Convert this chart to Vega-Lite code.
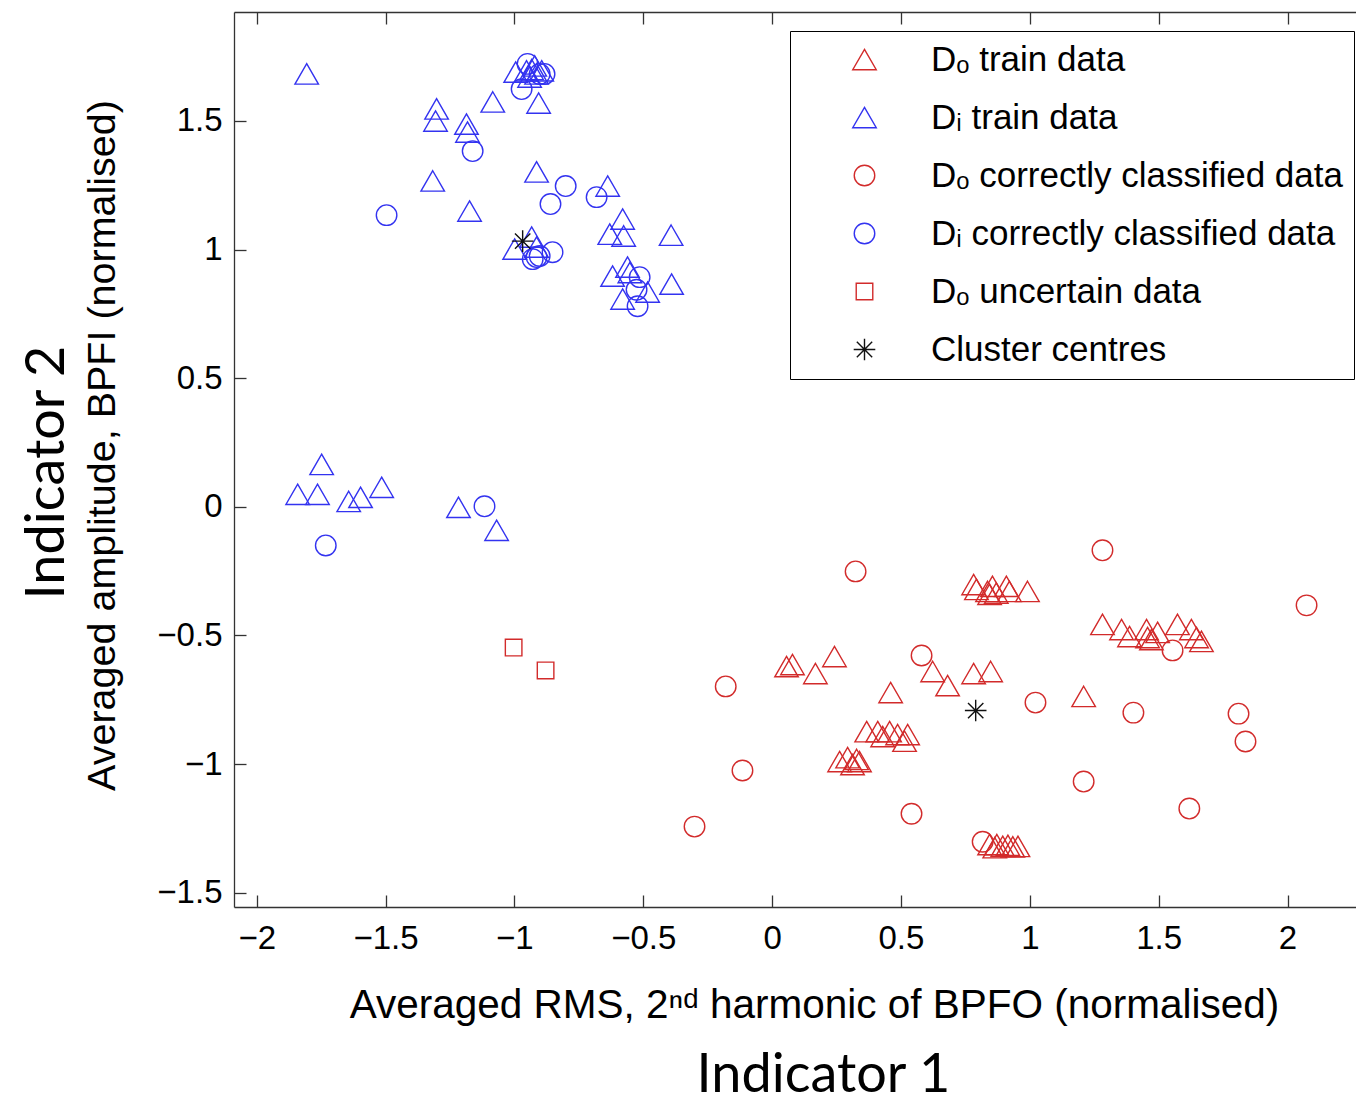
{
  "$schema": "https://vega.github.io/schema/vega-lite/v6.json",
  "width": 1122,
  "height": 895,
  "autosize": {"type": "none"},
  "padding": {"left": 234, "top": 12, "right": 0, "bottom": 197},
  "background": "white",
  "config": {
    "view": {"stroke": null},
    "axis": {
      "labelFont": "Liberation Sans",
      "titleFont": "Liberation Sans",
      "labelFontSize": 33,
      "titleFontSize": 40.5,
      "titleFontWeight": "normal",
      "labelColor": "black",
      "titleColor": "black",
      "domainColor": "#333333",
      "domainWidth": 1.3,
      "tickColor": "#333333",
      "tickWidth": 1.3,
      "grid": false
    },
    "legend": {
      "orient": "none",
      "legendX": 556,
      "legendY": 19,
      "padding": 11,
      "strokeColor": "black",
      "fillColor": "white",
      "labelFont": "Liberation Sans",
      "labelFontSize": 35,
      "labelColor": "black",
      "labelLimit": 800,
      "symbolSize": 576,
      "symbolOffset": 46,
      "labelOffset": 49,
      "rowPadding": 22,
      "symbolStrokeWidth": 1.4
    }
  },
  "datasets": {
    "pts": [
      {"x": 0.782, "y": -0.302, "g": "Dₒ train data"},
      {"x": 0.793, "y": -0.321, "g": "Dₒ train data"},
      {"x": 0.836, "y": -0.329, "g": "Dₒ train data"},
      {"x": 0.855, "y": -0.309, "g": "Dₒ train data"},
      {"x": 0.844, "y": -0.340, "g": "Dₒ train data"},
      {"x": 0.909, "y": -0.309, "g": "Dₒ train data"},
      {"x": 0.921, "y": -0.329, "g": "Dₒ train data"},
      {"x": 0.991, "y": -0.329, "g": "Dₒ train data"},
      {"x": 0.870, "y": -0.335, "g": "Dₒ train data"},
      {"x": 0.056, "y": -0.621, "g": "Dₒ train data"},
      {"x": 0.079, "y": -0.613, "g": "Dₒ train data"},
      {"x": 0.168, "y": -0.648, "g": "Dₒ train data"},
      {"x": 0.242, "y": -0.582, "g": "Dₒ train data"},
      {"x": 0.460, "y": -0.722, "g": "Dₒ train data"},
      {"x": 0.623, "y": -0.640, "g": "Dₒ train data"},
      {"x": 0.681, "y": -0.695, "g": "Dₒ train data"},
      {"x": 0.782, "y": -0.648, "g": "Dₒ train data"},
      {"x": 0.848, "y": -0.640, "g": "Dₒ train data"},
      {"x": 0.367, "y": -0.874, "g": "Dₒ train data"},
      {"x": 0.410, "y": -0.874, "g": "Dₒ train data"},
      {"x": 0.456, "y": -0.874, "g": "Dₒ train data"},
      {"x": 0.487, "y": -0.885, "g": "Dₒ train data"},
      {"x": 0.526, "y": -0.885, "g": "Dₒ train data"},
      {"x": 0.514, "y": -0.911, "g": "Dₒ train data"},
      {"x": 0.429, "y": -0.893, "g": "Dₒ train data"},
      {"x": 0.262, "y": -0.990, "g": "Dₒ train data"},
      {"x": 0.293, "y": -0.975, "g": "Dₒ train data"},
      {"x": 0.328, "y": -0.982, "g": "Dₒ train data"},
      {"x": 0.312, "y": -1.002, "g": "Dₒ train data"},
      {"x": 0.339, "y": -0.990, "g": "Dₒ train data"},
      {"x": 0.844, "y": -1.313, "g": "Dₒ train data"},
      {"x": 0.872, "y": -1.313, "g": "Dₒ train data"},
      {"x": 0.895, "y": -1.320, "g": "Dₒ train data"},
      {"x": 0.915, "y": -1.316, "g": "Dₒ train data"},
      {"x": 0.934, "y": -1.322, "g": "Dₒ train data"},
      {"x": 0.954, "y": -1.320, "g": "Dₒ train data"},
      {"x": 0.864, "y": -1.325, "g": "Dₒ train data"},
      {"x": 1.282, "y": -0.457, "g": "Dₒ train data"},
      {"x": 1.356, "y": -0.477, "g": "Dₒ train data"},
      {"x": 1.387, "y": -0.504, "g": "Dₒ train data"},
      {"x": 1.453, "y": -0.477, "g": "Dₒ train data"},
      {"x": 1.457, "y": -0.508, "g": "Dₒ train data"},
      {"x": 1.496, "y": -0.488, "g": "Dₒ train data"},
      {"x": 1.573, "y": -0.457, "g": "Dₒ train data"},
      {"x": 1.627, "y": -0.477, "g": "Dₒ train data"},
      {"x": 1.647, "y": -0.508, "g": "Dₒ train data"},
      {"x": 1.666, "y": -0.523, "g": "Dₒ train data"},
      {"x": 1.472, "y": -0.516, "g": "Dₒ train data"},
      {"x": 1.209, "y": -0.737, "g": "Dₒ train data"},
      {"x": -1.806, "y": 1.683, "g": "Dᵢ train data"},
      {"x": -1.302, "y": 1.547, "g": "Dᵢ train data"},
      {"x": -1.306, "y": 1.500, "g": "Dᵢ train data"},
      {"x": -1.186, "y": 1.488, "g": "Dᵢ train data"},
      {"x": -1.182, "y": 1.457, "g": "Dᵢ train data"},
      {"x": -1.084, "y": 1.574, "g": "Dᵢ train data"},
      {"x": -0.906, "y": 1.570, "g": "Dᵢ train data"},
      {"x": -0.995, "y": 1.690, "g": "Dᵢ train data"},
      {"x": -0.953, "y": 1.695, "g": "Dᵢ train data"},
      {"x": -0.933, "y": 1.700, "g": "Dᵢ train data"},
      {"x": -0.921, "y": 1.714, "g": "Dᵢ train data"},
      {"x": -0.914, "y": 1.683, "g": "Dᵢ train data"},
      {"x": -0.894, "y": 1.695, "g": "Dᵢ train data"},
      {"x": -0.941, "y": 1.671, "g": "Dᵢ train data"},
      {"x": -1.317, "y": 1.267, "g": "Dᵢ train data"},
      {"x": -1.174, "y": 1.150, "g": "Dᵢ train data"},
      {"x": -0.914, "y": 1.302, "g": "Dᵢ train data"},
      {"x": -0.638, "y": 1.247, "g": "Dᵢ train data"},
      {"x": -0.580, "y": 1.119, "g": "Dᵢ train data"},
      {"x": -0.630, "y": 1.060, "g": "Dᵢ train data"},
      {"x": -0.576, "y": 1.053, "g": "Dᵢ train data"},
      {"x": -0.392, "y": 1.056, "g": "Dᵢ train data"},
      {"x": -0.999, "y": 1.002, "g": "Dᵢ train data"},
      {"x": -0.933, "y": 1.049, "g": "Dᵢ train data"},
      {"x": -0.914, "y": 1.010, "g": "Dᵢ train data"},
      {"x": -0.619, "y": 0.897, "g": "Dᵢ train data"},
      {"x": -0.561, "y": 0.932, "g": "Dᵢ train data"},
      {"x": -0.552, "y": 0.911, "g": "Dᵢ train data"},
      {"x": -0.483, "y": 0.835, "g": "Dᵢ train data"},
      {"x": -0.580, "y": 0.808, "g": "Dᵢ train data"},
      {"x": -0.390, "y": 0.866, "g": "Dᵢ train data"},
      {"x": -1.748, "y": 0.165, "g": "Dᵢ train data"},
      {"x": -1.841, "y": 0.049, "g": "Dᵢ train data"},
      {"x": -1.764, "y": 0.049, "g": "Dᵢ train data"},
      {"x": -1.643, "y": 0.021, "g": "Dᵢ train data"},
      {"x": -1.597, "y": 0.037, "g": "Dᵢ train data"},
      {"x": -1.515, "y": 0.076, "g": "Dᵢ train data"},
      {"x": -1.217, "y": -0.002, "g": "Dᵢ train data"},
      {"x": -1.069, "y": -0.091, "g": "Dᵢ train data"},
      {"x": 0.324, "y": -0.251, "g": "Dₒ correctly classified data"},
      {"x": -0.180, "y": -0.698, "g": "Dₒ correctly classified data"},
      {"x": 0.580, "y": -0.578, "g": "Dₒ correctly classified data"},
      {"x": 1.022, "y": -0.761, "g": "Dₒ correctly classified data"},
      {"x": -0.115, "y": -1.025, "g": "Dₒ correctly classified data"},
      {"x": -0.301, "y": -1.243, "g": "Dₒ correctly classified data"},
      {"x": 0.541, "y": -1.193, "g": "Dₒ correctly classified data"},
      {"x": 0.817, "y": -1.302, "g": "Dₒ correctly classified data"},
      {"x": 1.282, "y": -0.169, "g": "Dₒ correctly classified data"},
      {"x": 2.074, "y": -0.383, "g": "Dₒ correctly classified data"},
      {"x": 1.554, "y": -0.558, "g": "Dₒ correctly classified data"},
      {"x": 1.402, "y": -0.800, "g": "Dₒ correctly classified data"},
      {"x": 1.810, "y": -0.804, "g": "Dₒ correctly classified data"},
      {"x": 1.837, "y": -0.912, "g": "Dₒ correctly classified data"},
      {"x": 1.209, "y": -1.068, "g": "Dₒ correctly classified data"},
      {"x": 1.619, "y": -1.173, "g": "Dₒ correctly classified data"},
      {"x": -0.949, "y": 1.722, "g": "Dᵢ correctly classified data"},
      {"x": -0.902, "y": 1.683, "g": "Dᵢ correctly classified data"},
      {"x": -0.883, "y": 1.683, "g": "Dᵢ correctly classified data"},
      {"x": -0.972, "y": 1.624, "g": "Dᵢ correctly classified data"},
      {"x": -1.162, "y": 1.383, "g": "Dᵢ correctly classified data"},
      {"x": -1.496, "y": 1.134, "g": "Dᵢ correctly classified data"},
      {"x": -0.801, "y": 1.247, "g": "Dᵢ correctly classified data"},
      {"x": -0.860, "y": 1.177, "g": "Dᵢ correctly classified data"},
      {"x": -0.681, "y": 1.204, "g": "Dᵢ correctly classified data"},
      {"x": -0.914, "y": 0.971, "g": "Dᵢ correctly classified data"},
      {"x": -0.902, "y": 0.975, "g": "Dᵢ correctly classified data"},
      {"x": -0.852, "y": 0.990, "g": "Dᵢ correctly classified data"},
      {"x": -0.929, "y": 0.963, "g": "Dᵢ correctly classified data"},
      {"x": -0.514, "y": 0.893, "g": "Dᵢ correctly classified data"},
      {"x": -0.526, "y": 0.844, "g": "Dᵢ correctly classified data"},
      {"x": -0.522, "y": 0.780, "g": "Dᵢ correctly classified data"},
      {"x": -1.732, "y": -0.150, "g": "Dᵢ correctly classified data"},
      {"x": -1.116, "y": 0.002, "g": "Dᵢ correctly classified data"},
      {"x": -1.003, "y": -0.547, "g": "Dₒ uncertain data"},
      {"x": -0.879, "y": -0.636, "g": "Dₒ uncertain data"},
      {"x": -0.968, "y": 1.033, "g": "Cluster centres"},
      {"x": 0.790, "y": -0.792, "g": "Cluster centres"}
    ]
  },
  "resolve": {"scale": {"x": "independent", "y": "independent"}},
  "layer": [
    {
      "data": {"name": "pts"},
      "transform": [{"filter": {"field": "g", "oneOf": ["Dₒ train data", "Dᵢ train data", "Dₒ correctly classified data", "Dᵢ correctly classified data"]}}],
      "mark": {"type": "point", "filled": false, "strokeWidth": 1.4, "opacity": 1, "size": 576},
      "encoding": {
        "x": {
          "field": "x", "type": "quantitative",
          "scale": {"domain": [-2.0881, 2.2658], "nice": false, "zero": false},
          "axis": {
            "orient": "bottom",
            "values": [-2, -1.5, -1, -0.5, 0, 0.5, 1, 1.5, 2],
            "format": "~g",
            "tickSize": -12,
            "labelPadding": 27,
            "title": "Averaged RMS, 2ⁿᵈ harmonic of BPFO (normalised)",
            "titlePadding": 30,
            "titleX": 580
          }
        },
        "y": {
          "field": "y", "type": "quantitative",
          "scale": {"domain": [-1.5556, 1.9237], "nice": false, "zero": false},
          "axis": {
            "orient": "left",
            "values": [-1.5, -1, -0.5, 0, 0.5, 1, 1.5],
            "format": "~g",
            "tickSize": -12,
            "labelPadding": 24,
            "title": "Averaged amplitude, BPFI (normalised)",
            "titleFontSize": 39.5,
            "titlePadding": 34,
            "titleY": 433
          }
        },
        "color": {
          "field": "g", "type": "nominal",
          "scale": {
            "domain": ["Dₒ train data", "Dᵢ train data", "Dₒ correctly classified data", "Dᵢ correctly classified data", "Dₒ uncertain data", "Cluster centres"],
            "range": ["#d22b2b", "#3333f0", "#d22b2b", "#3333f0", "#d22b2b", "#111111"]
          },
          "legend": {"title": null}
        },
        "shape": {
          "field": "g", "type": "nominal",
          "scale": {
            "domain": ["Dₒ train data", "Dᵢ train data", "Dₒ correctly classified data", "Dᵢ correctly classified data", "Dₒ uncertain data", "Cluster centres"],
            "range": [
              "M0,-0.85L0.98,0.85L-0.98,0.85Z",
              "M0,-0.85L0.98,0.85L-0.98,0.85Z",
              "M0.855,0A0.855,0.855,0,1,1,-0.855,0A0.855,0.855,0,1,1,0.855,0Z",
              "M0.855,0A0.855,0.855,0,1,1,-0.855,0A0.855,0.855,0,1,1,0.855,0Z",
              "M-0.69,-0.69L0.69,-0.69L0.69,0.69L-0.69,0.69Z",
              "M0,-0.9L0,0.9M-0.9,0L0.9,0M-0.64,-0.64L0.64,0.64M-0.64,0.64L0.64,-0.64"
            ]
          },
          "legend": {"title": null}
        }
      }
    },
    {
      "data": {"name": "pts"},
      "transform": [{"filter": {"field": "g", "equal": "Cluster centres"}}],
      "mark": {"type": "point", "filled": false, "strokeWidth": 1.4, "opacity": 1, "size": 576},
      "encoding": {
        "x": {
          "field": "x", "type": "quantitative",
          "scale": {"domain": [-2.0881, 2.2658], "nice": false, "zero": false},
          "axis": {
            "orient": "top",
            "values": [-2, -1.5, -1, -0.5, 0, 0.5, 1, 1.5, 2],
            "labels": false,
            "tickSize": -12,
            "title": null
          }
        },
        "y": {
          "field": "y", "type": "quantitative",
          "scale": {"domain": [-1.5556, 1.9237], "nice": false, "zero": false},
          "axis": null
        },
        "color": {"field": "g", "type": "nominal", "legend": {"title": null}},
        "shape": {"field": "g", "type": "nominal", "legend": {"title": null}}
      }
    },
    {
      "data": {"name": "pts"},
      "transform": [{"filter": {"field": "g", "equal": "Dₒ uncertain data"}}],
      "mark": {"type": "point", "filled": false, "strokeWidth": 1.4, "opacity": 1, "size": 576},
      "encoding": {
        "x": {
          "field": "x", "type": "quantitative",
          "scale": {"domain": [-2.0881, 2.2658], "nice": false, "zero": false},
          "axis": {
            "orient": "bottom",
            "labels": false,
            "ticks": false,
            "domain": false,
            "title": "Indicator 1",
            "titleFont": "Lato",
            "titleFontSize": 54,
            "titlePadding": 141,
            "titleX": 589
          }
        },
        "y": {
          "field": "y", "type": "quantitative",
          "scale": {"domain": [-1.5556, 1.9237], "nice": false, "zero": false},
          "axis": {
            "orient": "left",
            "labels": false,
            "ticks": false,
            "domain": false,
            "title": "Indicator 2",
            "titleFont": "Lato",
            "titleFontSize": 54,
            "titlePadding": 160,
            "titleY": 460
          }
        },
        "color": {"field": "g", "type": "nominal", "legend": {"title": null}},
        "shape": {"field": "g", "type": "nominal", "legend": {"title": null}}
      }
    }
  ]
}
